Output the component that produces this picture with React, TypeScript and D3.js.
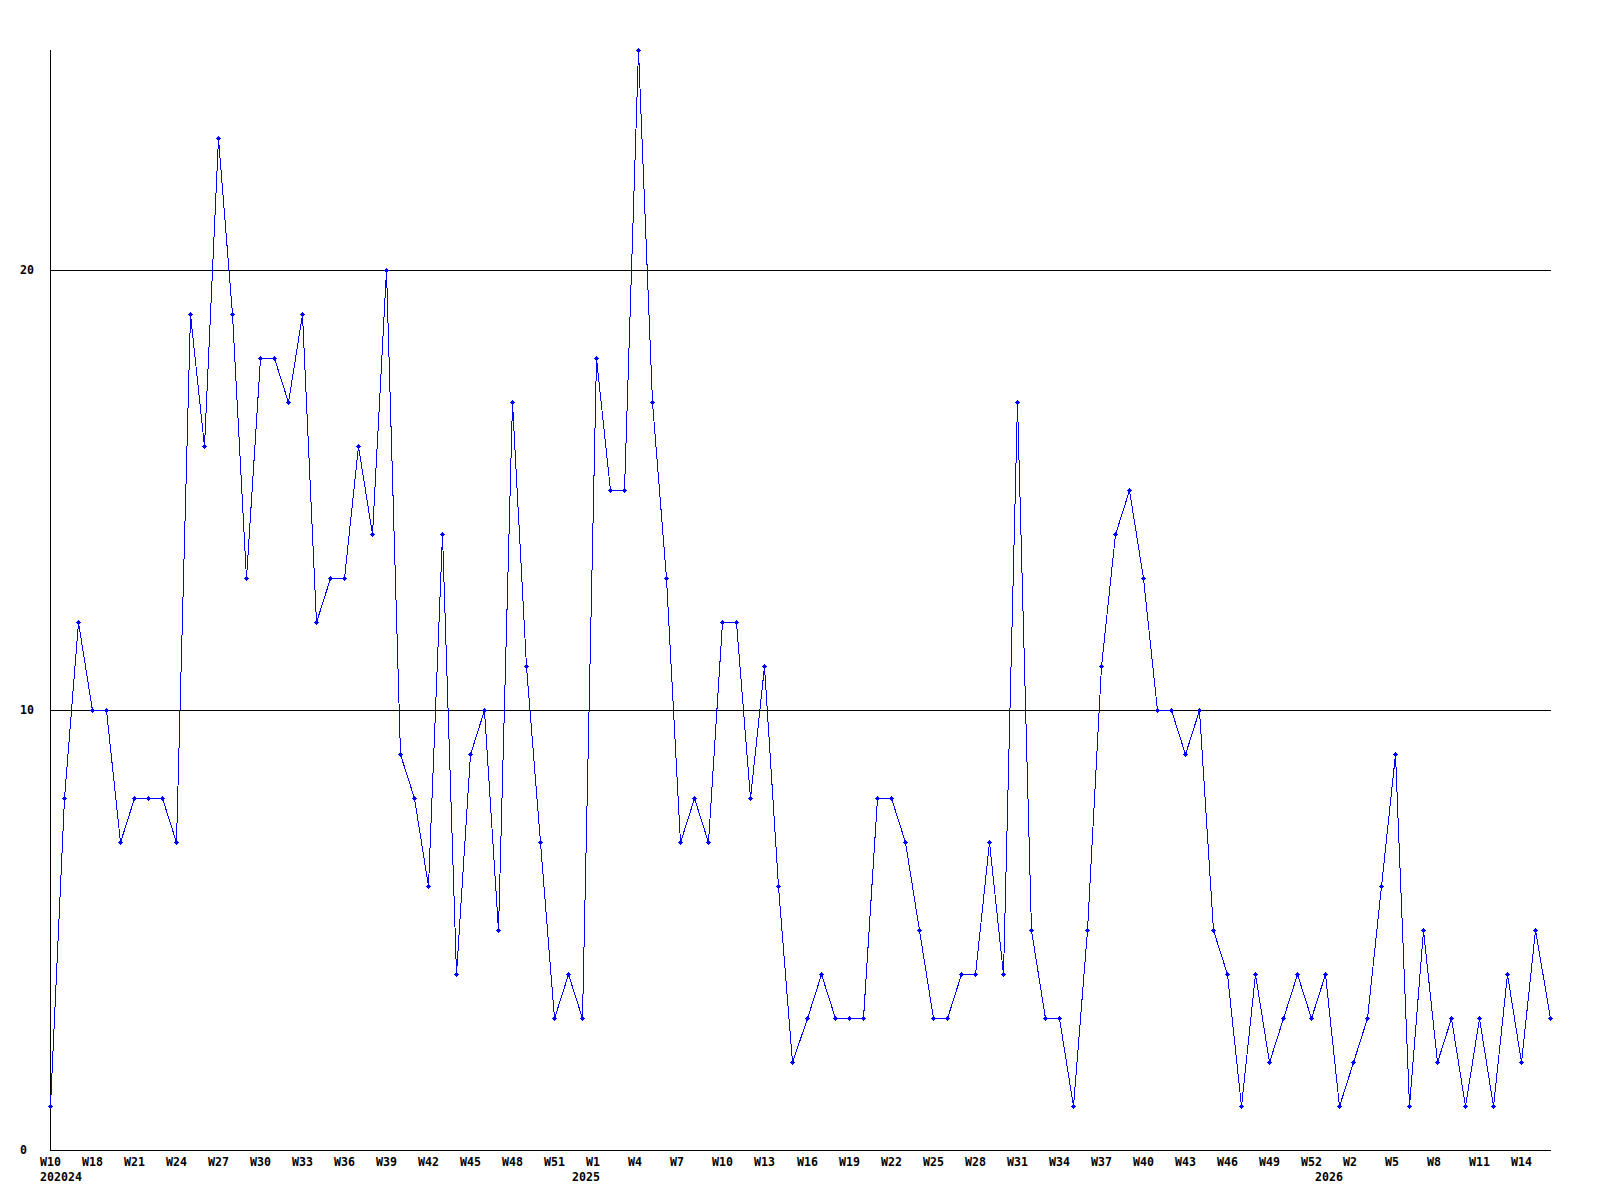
import React, { useEffect } from "react";
import * as d3 from "d3";

// weekly values, 108 weeks
const values: number[] = [
  1, 8, 12, 10, 10, 7, 8, 8, 8, 7,
  19, 16, 23, 19, 13, 18, 18, 17, 19, 12,
  13, 13, 16, 14, 20, 9, 8, 6, 14, 4,
  9, 10, 5, 17, 11, 7, 3, 4, 3, 18,
  15, 15, 25, 17, 13, 7, 8, 7, 12, 12,
  8, 11, 6, 2, 3, 4, 3, 3, 3, 8,
  8, 7, 5, 3, 3, 4, 4, 7, 4, 17,
  5, 3, 3, 1, 5, 11, 14, 15, 13, 10,
  10, 9, 10, 5, 4, 1, 4, 2, 3, 4,
  3, 4, 1, 2, 3, 6, 9, 1, 5, 2,
  3, 1, 3, 1, 4, 2, 5, 3,
];

const weekLabels: string[] = [
  "W10", "W18", "W21", "W24", "W27", "W30", "W33", "W36", "W39", "W42",
  "W45", "W48", "W51", "W1", "W4", "W7", "W10", "W13", "W16", "W19",
  "W22", "W25", "W28", "W31", "W34", "W37", "W40", "W43", "W46", "W49",
  "W52", "W2", "W5", "W8", "W11", "W14",
];
const weekLabelStep = 3;

const yearLabels: string[] = ["202024", "2025", "2026"];
const yearLabelIndex: number[] = [0, 38, 91];

const yTicks: number[] = [0, 10, 20];
const yMax = 25;

const FONT = "'DejaVu Sans Mono', monospace";

export default function App() {
  useEffect(() => {
    document.body.style.margin = "0";
  }, []);

  const left = 50;
  const right = 1550;
  const axisRight = 1551;
  const top = 50;
  const bottom = 1150;

  const xs = d3.scaleLinear().domain([0, values.length]).range([left, right + (right - left) / (values.length - 1)]);
  const x = d3.scaleLinear().domain([0, values.length - 1]).range([left, right]);
  const px = (i: number) => Math.floor(x(i) + 1e-6);
  const y = d3.scaleLinear().domain([0, yMax]).range([bottom, top]);

  const line = d3
    .line<number>()
    .x((_, i) => px(i) + 0.5)
    .y((d) => Math.round(y(d)) + 0.5);

  void xs;

  return (
    <svg width={1600} height={1200} style={{ display: "block", background: "#fff" }}>
      <rect x={0} y={0} width={1600} height={1200} fill="#fff" />
      {/* grid lines */}
      {yTicks
        .filter((t) => t > 0)
        .map((t) => (
          <line
            key={"g" + t}
            x1={left}
            x2={axisRight}
            y1={Math.round(y(t)) + 0.5}
            y2={Math.round(y(t)) + 0.5}
            stroke="#000"
            strokeWidth={1}
            shapeRendering="crispEdges"
          />
        ))}
      {/* axes */}
      <line x1={left + 0.5} x2={left + 0.5} y1={top} y2={bottom + 1} stroke="#000" shapeRendering="crispEdges" />
      <line x1={left} x2={axisRight} y1={bottom + 0.5} y2={bottom + 0.5} stroke="#000" shapeRendering="crispEdges" />
      {/* y labels */}
      {yTicks.map((t) => (
        <text
          key={"y" + t}
          x={20}
          y={y(t) + 4}
          fontFamily={FONT}
          fontWeight="bold"
          fontSize={11.6}
          fill="#000"
        >
          {t}
        </text>
      ))}
      {/* x labels */}
      {weekLabels.map((l, i) => (
        <text
          key={"w" + i}
          x={px(i * weekLabelStep) - 10}
          y={1166}
          fontFamily={FONT}
          fontWeight="bold"
          fontSize={11.6}
          fill="#000"
        >
          {l}
        </text>
      ))}
      {yearLabels.map((l, i) => (
        <text
          key={"yr" + i}
          x={px(yearLabelIndex[i]) - 10}
          y={1181}
          fontFamily={FONT}
          fontWeight="bold"
          fontSize={11.6}
          fill="#000"
        >
          {l}
        </text>
      ))}
      {/* data line */}
      <path d={line(values) || ""} fill="none" stroke="#0000ff" strokeWidth={1} shapeRendering="crispEdges" />
      {values.map((v, i) => {
        const cx = px(i);
        const cy = Math.round(y(v));
        return (
          <g key={"m" + i} fill="#0000ff" shapeRendering="crispEdges">
            <rect x={cx} y={cy - 2} width={1} height={5} />
            <rect x={cx - 1} y={cy - 1} width={3} height={3} />
            <rect x={cx - 2} y={cy} width={5} height={1} />
          </g>
        );
      })}
    </svg>
  );
}
